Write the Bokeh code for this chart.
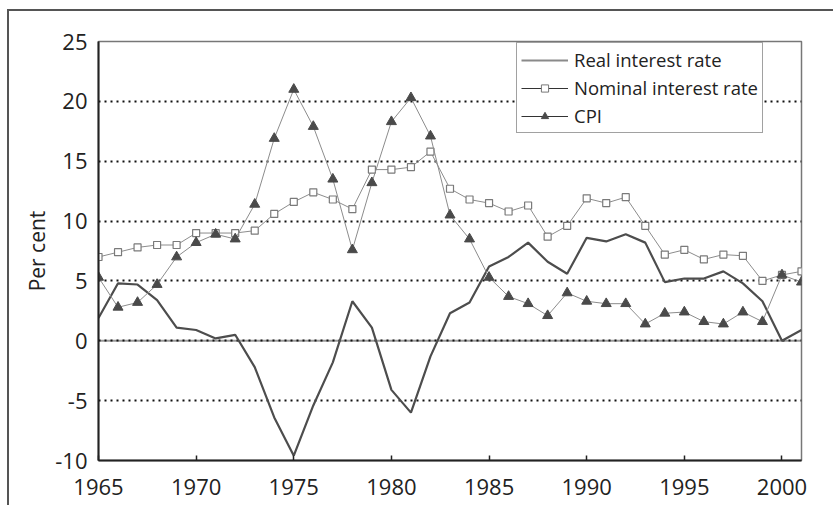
from bokeh.plotting import figure
from bokeh.models import Range1d, FixedTicker, Span, Legend, LegendItem
from bokeh.embed import file_html
from bokeh.resources import INLINE

years = list(range(1965, 2002))
real_rate = [1.9, 4.8, 4.7, 3.4, 1.1, 0.9, 0.2, 0.5, -2.2, -6.4,
             -9.6, -5.4, -1.8, 3.3, 1.1, -4.1, -6.0, -1.3, 2.3, 3.2,
             6.2, 7.0, 8.2, 6.6, 5.6, 8.6, 8.3, 8.9, 8.2, 4.9,
             5.2, 5.2, 5.8, 4.8, 3.3, 0.0, 0.9]
nominal_rate = [7.0, 7.4, 7.8, 8.0, 8.0, 9.0, 9.0, 9.0, 9.2, 10.6,
                11.6, 12.4, 11.8, 11.0, 14.3, 14.3, 14.5, 15.8, 12.7, 11.8,
                11.5, 10.8, 11.3, 8.7, 9.6, 11.9, 11.5, 12.0, 9.6, 7.2,
                7.6, 6.8, 7.2, 7.1, 5.0, 5.5, 5.8]
cpi = [5.3, 2.8, 3.2, 4.7, 7.0, 8.2, 8.9, 8.5, 11.4, 16.9,
       21.0, 17.9, 13.5, 7.6, 13.2, 18.3, 20.3, 17.1, 10.5, 8.5,
       5.3, 3.7, 3.1, 2.1, 4.0, 3.3, 3.1, 3.1, 1.4, 2.3,
       2.4, 1.6, 1.4, 2.4, 1.6, 5.5, 4.9]
x_ticks = [1965, 1970, 1975, 1980, 1985, 1990, 1995, 2000]
y_ticks = [-10, -5, 0, 5, 10, 15, 20, 25]
y_tick_labels = ["-10", "-5", "0", "5", "10", "15", "20", "25"]
grid_ticks = [-5, 0, 5, 10, 15, 20, 25]
labels = ["Real interest rate", "Nominal interest rate", "CPI"]
y_label = "Per cent"

FONT = "Open Sans"

p = figure(frame_width=703, frame_height=419,
           x_range=Range1d(1965, 2001), y_range=Range1d(-10, 25),
           output_backend="svg", toolbar_location=None,
           min_border_left=89, min_border_top=30, min_border_right=32, min_border_bottom=45,
           background_fill_color="white", border_fill_color="white",
           styles={"border-left": "2px solid #555", "border-top": "2px solid #555",
                   "margin-top": "9px", "margin-left": "7px"})

p.outline_line_color = "#777"
p.outline_line_width = 1.5

# axes
for ax in (p.xaxis[0], p.yaxis[0]):
    ax.axis_line_color = "#222"
    ax.axis_line_width = 2
    ax.minor_tick_line_color = None
    ax.major_label_text_font = FONT
    ax.major_label_text_font_size = "22px"
    ax.major_label_text_color = "#222"
    ax.major_tick_line_color = "#222"
    ax.major_tick_line_width = 1.5

p.xaxis.ticker = FixedTicker(ticks=x_ticks)
p.xaxis.major_tick_in = 5
p.xaxis.major_tick_out = 0
p.xaxis.major_label_standoff = 18

p.yaxis.ticker = FixedTicker(ticks=y_ticks)
p.yaxis.major_label_overrides = dict(zip(y_ticks, y_tick_labels))
p.yaxis.major_tick_in = 0
p.yaxis.major_tick_out = 0
p.yaxis.major_label_standoff = 11
p.yaxis.axis_label = y_label
p.yaxis.axis_label_text_font = FONT
p.yaxis.axis_label_text_font_size = "21px"
p.yaxis.axis_label_text_font_style = "normal"
p.yaxis.axis_label_text_color = "#222"
p.yaxis.axis_label_standoff = 1

p.xgrid.visible = False
p.ygrid.ticker = FixedTicker(ticks=grid_ticks)
p.ygrid.grid_line_color = "#111"
p.ygrid.grid_line_width = 2
p.ygrid.grid_line_dash = "2 4"

zero = Span(location=0, dimension="width", line_color="#999", line_width=2, level="image")
p.add_layout(zero)

# data
p.line(years, real_rate, line_color="#4d4d4d", line_width=2.2)
p.line(years, nominal_rate, line_color="#8c8c8c", line_width=1)
p.scatter(years, nominal_rate, marker="square", size=7, fill_color="white",
          line_color="#7a7a7a", line_width=1.2)
p.line(years, cpi, line_color="#8c8c8c", line_width=1)
p.scatter(years, cpi, marker="triangle", size=10, fill_color="#4a4a4a",
          line_color="#4a4a4a")

# legend-only (hidden) renderers with the legend's own styling
l1 = p.line(years, real_rate, line_color="#8a8a8a", line_width=2, visible=False)
l2 = p.line(years, nominal_rate, line_color="#333", line_width=1.2, visible=False)
s2 = p.scatter(years, nominal_rate, marker="square", fill_color="white",
               line_color="#777", line_width=1, visible=False)
l3 = p.line(years, cpi, line_color="#333", line_width=1.2, visible=False)
s3 = p.scatter(years, cpi, marker="triangle", fill_color="#4a4a4a",
               line_color="#4a4a4a", visible=False)

legend = Legend(items=[LegendItem(label=labels[0], renderers=[l1]),
                       LegendItem(label=labels[1], renderers=[l2, s2]),
                       LegendItem(label=labels[2], renderers=[l3, s3])],
                location=(418, 327),
                label_text_font=FONT, label_text_font_size="18.5px", label_text_color="#222",
                glyph_width=47, glyph_height=18, label_height=25,
                spacing=3, padding=4, margin=0, label_standoff=6,
                border_line_color="#444", border_line_width=1,
                background_fill_color="white", background_fill_alpha=1,
                inactive_fill_alpha=0)
p.add_layout(legend)

open("out.html", "w").write(file_html(p, INLINE))
